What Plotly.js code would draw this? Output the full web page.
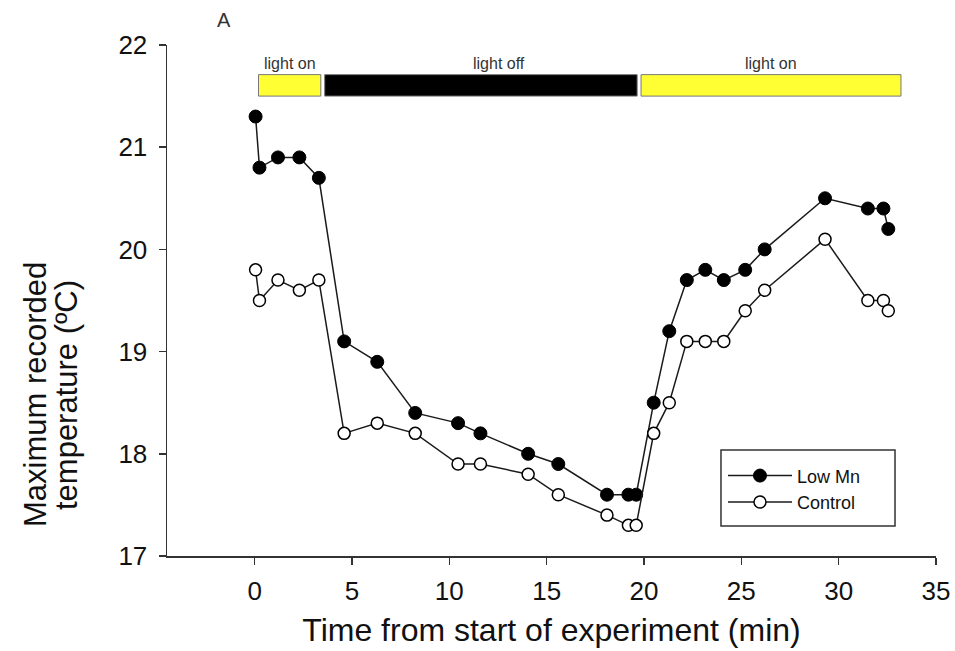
<!DOCTYPE html>
<html>
<head>
<meta charset="utf-8">
<script src="https://cdn.plot.ly/plotly-3.0.1.min.js"></script>
<style>html,body{margin:0;padding:0;background:#fff;}#chart{width:955px;height:651px;}</style>
</head>
<body>
<div id="chart"></div>
<script>
// Time points (min)
const time = [0.05, 0.25, 1.2, 2.3, 3.3, 4.6, 6.3, 8.25, 10.45, 11.6, 14.05, 15.6, 18.1, 19.2, 19.6, 20.5, 21.3, 22.2, 23.15, 24.1, 25.2, 26.2, 29.3, 31.5, 32.3, 32.55];
// Maximum recorded temperature (ºC)
const lowMn = [21.3, 20.8, 20.9, 20.9, 20.7, 19.1, 18.9, 18.4, 18.3, 18.2, 18.0, 17.9, 17.6, 17.6, 17.6, 18.5, 19.2, 19.7, 19.8, 19.7, 19.8, 20.0, 20.5, 20.4, 20.4, 20.2];
const control = [19.8, 19.5, 19.7, 19.6, 19.7, 18.2, 18.3, 18.2, 17.9, 17.9, 17.8, 17.6, 17.4, 17.3, 17.3, 18.2, 18.5, 19.1, 19.1, 19.1, 19.4, 19.6, 20.1, 19.5, 19.5, 19.4];
// Light periods
const phaseStart = [0.2, 3.6, 19.85];
const phaseEnd = [3.4, 19.65, 33.2];
const phaseLabel = ['light on', 'light off', 'light on'];
const phaseLabelX = [1.8, 12.55, 26.5];
const phaseColor = ['#ffff33', '#000000', '#ffff33'];
const barBottom = 21.5, barTop = 21.71;
const xTicks = [0, 5, 10, 15, 20, 25, 30, 35];
const yTicks = [17, 18, 19, 20, 21, 22];

const FONT = 'Liberation Sans, Arial, Helvetica, sans-serif';

const traces = [
  {x: time, y: lowMn, name: 'Low Mn', type: 'scatter', mode: 'lines+markers',
   line: {color: '#1a1a1a', width: 1.5},
   marker: {symbol: 'circle', size: 13, color: '#000000', line: {color: '#000000', width: 1}}},
  {x: time, y: control, name: 'Control', type: 'scatter', mode: 'lines+markers',
   line: {color: '#1a1a1a', width: 1.5},
   marker: {symbol: 'circle', size: 12, color: '#ffffff', line: {color: '#000000', width: 1.5}}}
];

const shapes = phaseStart.map((s, i) => ({
  type: 'rect', xref: 'x', yref: 'y', x0: s, x1: phaseEnd[i], y0: barBottom, y1: barTop,
  fillcolor: phaseColor[i], line: {color: '#777777', width: 1}, layer: 'above'
}));
// legend frame
shapes.push({type: 'rect', xref: 'paper', yref: 'paper', x0: 0.7204, x1: 0.9467, y0: 0.0587, y1: 0.2074,
  line: {color: '#333333', width: 1.5}, fillcolor: 'rgba(0,0,0,0)', layer: 'above'});

const annotations = phaseLabel.map((t, i) => ({
  x: phaseLabelX[i], y: barTop, xref: 'x', yref: 'y', text: t, showarrow: false,
  xanchor: 'center', yanchor: 'bottom', yshift: 1,
  font: {family: FONT, size: 16, color: '#333333'}
}));
annotations.push(
  {xref: 'paper', yref: 'paper', x: 0, y: 1, xshift: 224 - 167, yshift: 45 - 20,
   text: 'A', showarrow: false, xanchor: 'center', yanchor: 'middle',
   font: {family: FONT, size: 20, color: '#333333'}},
  {xref: 'paper', yref: 'paper', x: 0, y: 0.315, xshift: 35 - 167,
   text: 'Maximum recorded', showarrow: false, textangle: -90,
   xanchor: 'center', yanchor: 'middle',
   font: {family: FONT, size: 31, color: '#111111'}},
  {xref: 'paper', yref: 'paper', x: 0, y: 0.315, xshift: 66 - 167,
   text: 'temperature (ºC)', showarrow: false, textangle: -90,
   xanchor: 'center', yanchor: 'middle',
   font: {family: FONT, size: 31, color: '#111111'}}
);

const layout = {
  width: 955, height: 651,
  margin: {l: 167, r: 19, t: 45, b: 95},
  paper_bgcolor: '#ffffff', plot_bgcolor: '#ffffff',
  font: {family: FONT, color: '#111111'},
  showlegend: true,
  legend: {x: 0.723, y: 0.193, xanchor: 'left', yanchor: 'top',
    borderwidth: 0, bgcolor: 'rgba(0,0,0,0)', itemwidth: 64,
    font: {family: FONT, size: 18, color: '#111111'}, tracegroupgap: 0},
  xaxis: {range: [-4.5, 35], tickvals: xTicks, ticktext: xTicks.map(String),
    showgrid: false, zeroline: false, showline: true, linecolor: '#333333', linewidth: 1.5,
    ticks: 'outside', ticklen: 7, tickwidth: 1.5, tickcolor: '#333333', ticklabelstandoff: 4,
    tickfont: {family: FONT, size: 26, color: '#111111'},
    title: {text: 'Time from start of experiment (min)', font: {family: FONT, size: 32, color: '#111111'}, standoff: 14}},
  yaxis: {range: [17, 22], tickvals: yTicks, ticktext: yTicks.map(String),
    showgrid: false, zeroline: false, showline: true, linecolor: '#333333', linewidth: 1.5,
    ticks: 'outside', ticklen: 7, tickwidth: 1.5, tickcolor: '#333333', ticklabelstandoff: 6,
    tickfont: {family: FONT, size: 26, color: '#111111'}},
  shapes: shapes,
  annotations: annotations
};

Plotly.newPlot('chart', traces, layout, {displayModeBar: false, staticPlot: true});
</script>
</body>
</html>
